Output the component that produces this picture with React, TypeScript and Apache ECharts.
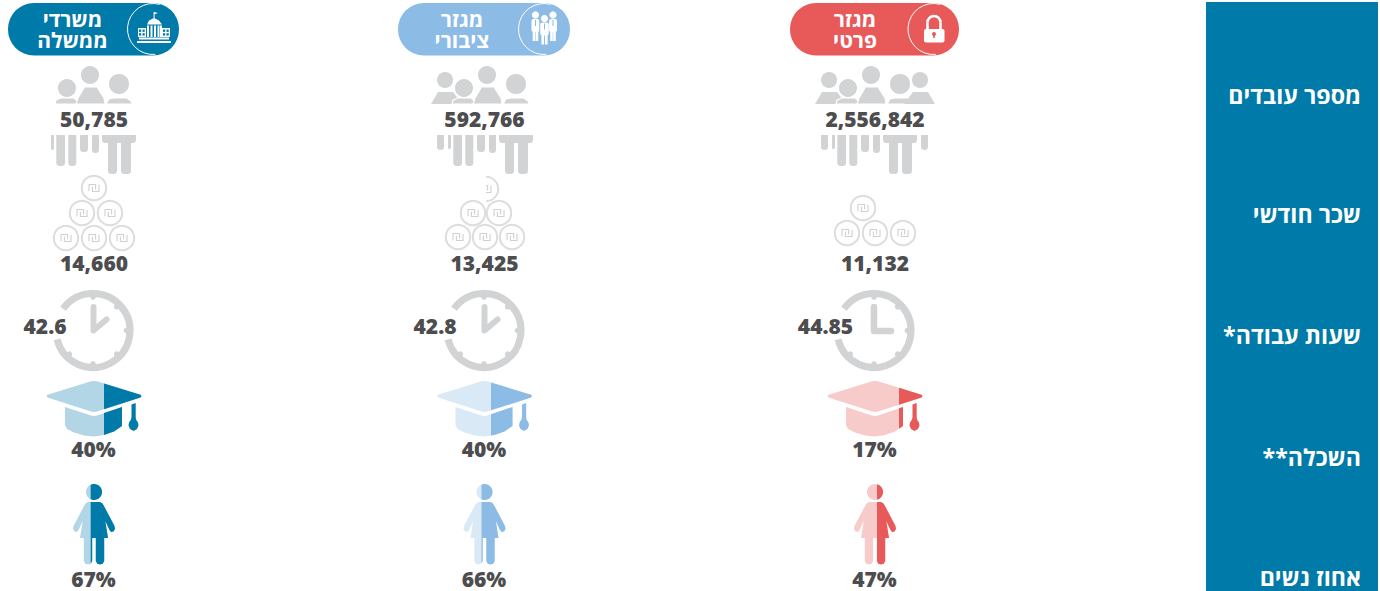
import React, { useEffect, useRef } from "react";
import * as echarts from "echarts";

// ---------- data (column order: left to right in the picture) ----------
const sectors = ["משרדי\nממשלה", "מגזר\nציבורי", "מגזר\nפרטי"];
const rowLabels = ["מספר עובדים", "שכר חודשי", "שעות עבודה*\u200F", "השכלה**\u200F", "אחוז נשים"];
const employees = ["50,785", "592,766", "2,556,842"];
const wages = ["14,660", "13,425", "11,132"];
const hours = ["42.6", "42.8", "44.85"];
const education = ["40%", "40%", "17%"];
const women = ["67%", "66%", "47%"];

// ---------- look ----------
const FONT = '"Open Sans", "Noto Sans", sans-serif';
const GRAY = "#d1d3d4";
const TXT = "#4d4d4f";
const dark = ["#007aa8", "#8cbce6", "#e85a5a"];
const light = ["#b2d6e5", "#d9e9f6", "#f8cbcb"];
const centers = [94, 484.5, 875];
const pillX = [[8, 179], [398, 570], [790, 959]];
const pillCircle = [153, 544, 933.5];
const pillTextX = [72.5, 462, 855];
const peopleDx = [-781, -384, 0];
const peopleSets = ["BCD", "ABCD", "ABCDE"];
const clockCx = [93, 484, 874];
const clockLabelX = [45, 435, 825.5];
const capSplit = [10, 6.5, 24];
const womanSplit = [-3.3, -3, 2];
const coinSets: number[][][] = [
  [[94, 188], [82, 213], [110, 213], [66, 238], [94, 238], [122, 238]],
  [[473, 213], [499, 213], [458, 237], [485, 237], [512, 237]],
  [[863, 208], [847, 233], [875, 233], [903, 233]],
];
const halfCoin = [486, 189];

type P = number[];
const clipRight = (pts: P[], x: number): P[] => {
  const out: P[] = [];
  for (let i = 0; i < pts.length; i++) {
    const a = pts[i];
    const b = pts[(i + 1) % pts.length];
    const ai = a[0] >= x;
    const bi = b[0] >= x;
    if (ai) out.push(a);
    if (ai !== bi) {
      const t = (x - a[0]) / (b[0] - a[0]);
      out.push([x, a[1] + t * (b[1] - a[1])]);
    }
  }
  return out;
};
const circlePts = (cx: number, cy: number, r: number): P[] => {
  const o: P[] = [];
  for (let i = 0; i < 60; i++) {
    const t = (i / 60) * Math.PI * 2;
    o.push([cx + r * Math.cos(t), cy + r * Math.sin(t)]);
  }
  return o;
};

// half of the woman outline, mirrored (relative to the column centre)
const womanHalf: P[] = [
  [0, 502], [6, 502], [8.5, 503.5], [10.5, 507], [20.5, 526], [21, 529], [19.5, 531.5], [17, 532],
  [15.2, 529.5], [11.3, 521], [14, 538], [10.2, 538], [10.2, 561], [8.7, 563.8], [6, 564.6], [3.3, 563.8], [1.8, 561], [1.8, 538], [0, 538],
];
const womanBody: P[] = [
  ...womanHalf,
  ...womanHalf.slice(1, -1).reverse().map((p) => [-p[0], p[1]]),
];
const capTop: P[] = [
  [-46.5, 394.8], [-3, 381.3], [0, 381], [3, 381.3], [46.5, 394.8], [47.5, 396], [46.5, 397.5],
  [3, 411.5], [0, 412], [-3, 411.5], [-46.5, 397.5], [-47.5, 396],
];
const capBase: P[] = [
  [-29, 407], [-3, 415.5], [0, 416], [3, 415.5], [28, 407], [28, 426], [20, 431.5], [10, 435], [0, 436.5], [-10, 435.5], [-20, 432.5], [-27, 429], [-29, 425],
];
const tassel: P[] = [
  [37.5, 404.5], [41.7, 403], [41.7, 417], [42, 419.5], [44, 422.5], [44.5, 425.5], [43, 429], [39.5, 431], [36, 429], [34.5, 425.5], [35, 422.5], [37, 419.5], [37.5, 417],
];

const bodies: Record<string, P[]> = {
  A: [[815, 104], [822, 92], [837, 92], [846, 104]],
  E: [[935, 104], [928, 92], [913, 92], [904, 104]],
  C: [[857, 104], [859, 98], [865.5, 87], [878, 87], [885, 98], [886, 104]],
  B: [[836, 104], [837, 100], [842, 98], [855, 98], [860, 102], [861, 104]],
  D: [[887, 104], [890, 99], [895, 98], [908, 98], [912, 101], [913.5, 104]],
};
const heads: Record<string, number[]> = {
  A: [829, 80, 8], B: [848, 88, 9], C: [871, 75, 9], D: [900, 84, 10], E: [920, 80, 8],
};
const legs: Record<string, number[][]> = {
  A: [[821, 828, 150], [832, 835, 149]],
  B: [[837.3, 846, 166], [849.3, 857.3, 166]],
  C: [[861, 869, 152], [873, 880, 153]],
  D: [[883, 917, 143], [889, 898, 174], [902, 912, 174]],
  E: [[921, 928, 150]],
};

function buildElements(): any[] {
  const el: any[] = [];
  const poly = (points: P[], fill: string, extra: any = {}) =>
    el.push({ type: "polygon", silent: true, shape: { points }, style: { fill, ...extra } });
  const rect = (x: number, y: number, w: number, h: number, fill: string, r: any = 0) =>
    el.push({ type: "rect", silent: true, shape: { x, y, width: w, height: h, r }, style: { fill } });
  const circ = (cx: number, cy: number, r: number, fill: string) =>
    el.push({ type: "circle", silent: true, shape: { cx, cy, r }, style: { fill } });
  const arc = (cx: number, cy: number, r: number, a0: number, a1: number, stroke: string, lineWidth: number) =>
    el.push({
      type: "arc", silent: true,
      shape: { cx, cy, r, startAngle: (a0 * Math.PI) / 180, endAngle: (a1 * Math.PI) / 180, clockwise: true },
      style: { stroke, lineWidth, fill: "none" },
    });
  const line = (points: P[], stroke: string, lineWidth: number, cap = "butt") =>
    el.push({ type: "polyline", silent: true, shape: { points }, style: { stroke, lineWidth, fill: "none", lineCap: cap, lineJoin: "round" } });
  const text = (x: number, y: number, s: string, size: number, fill: string, align = "center", lineHeight?: number, weight: any = "bold") =>
    el.push({
      type: "text", silent: true, x, y: y - 1,
      style: {
        text: s, fill, fontFamily: FONT, fontWeight: weight, fontSize: size, textAlign: align,
        textVerticalAlign: "middle", verticalAlign: "middle", lineHeight: lineHeight || size,
      },
    });

  // right panel
  rect(1206, 2, 172, 589, "#007aa8");
  const rowY = [95.5, 214.5, 335.5, 457.5, 577.5];
  rowLabels.forEach((s, i) => text(1361, rowY[i], s, 23.2, "#ffffff", "right"));

  centers.forEach((cx, i) => {
    const d = dark[i];
    const l = light[i];
    // header pill
    const [px0, px1] = pillX[i];
    rect(px0, 3, px1 - px0, 52.5, d, 26);
    const pc = pillCircle[i];
    arc(pc, 29, 25.5, 85, 285, "#ffffff", 1);
    text(pillTextX[i], 30.5, sectors[i], 21, "#ffffff", "center", 21);
    if (i === 2) {
      arc(pc + 0.5, 22.5, 6.5, 180, 360, "#ffffff", 2.6);
      line([[pc - 6, 22.5], [pc - 6, 30]], "#ffffff", 2.6);
      line([[pc + 7, 22.5], [pc + 7, 30]], "#ffffff", 2.6);
      rect(pc - 9.5, 29, 20.5, 13.5, "#ffffff", 2);
      circ(pc + 0.5, 34, 2, d);
      rect(pc - 0.3, 34, 1.6, 4, d);
    } else if (i === 0) {
      rect(pc - 16, 41, 34, 2, "#ffffff");
      rect(pc - 14, 37.5, 30, 2, "#ffffff");
      rect(pc - 15, 28, 8, 9, "#ffffff");
      rect(pc + 9, 28, 8, 9, "#ffffff");
      [[-14, 29.5], [-10.5, 29.5], [-14, 33.2], [-10.5, 33.2], [10, 29.5], [13.5, 29.5], [10, 33.2], [13.5, 33.2]].forEach(([dx, y]) =>
        rect(pc + dx, y, 2.2, 2.4, d));
      [-6, -2.5, 1, 4.5, 7].forEach((dx) => rect(pc + dx, 25.5, 2, 11.5, "#ffffff"));
      poly([[pc - 6, 24.5], [pc - 4, 20.5], [pc + 1, 18], [pc + 6, 20.5], [pc + 9, 24.5]], "#ffffff");
      rect(pc + 0.6, 12, 1, 6.5, "#ffffff");
      poly([[pc + 1, 12], [pc + 5, 13], [pc + 1, 14.5]], "#ffffff");
    } else {
      const man = (dx: number, top: number, w: number) => {
        circ(pc + dx, top, 3.6, "#ffffff");
        rect(pc + dx - w / 2, top + 4, w, 13, "#ffffff", 2);
        rect(pc + dx - w / 2 + 1.2, top + 10, 2.6, 16, "#ffffff");
        rect(pc + dx + w / 2 - 3.8, top + 10, 2.6, 16, "#ffffff");
        rect(pc + dx - 0.5, top + 5, 1, 6, d);
      };
      man(-8.5, 15, 8);
      man(9, 15, 8);
      rect(pc - 4.5, 18, 9.5, 28, d);
      man(0.5, 18.5, 8.5);
    }

    // employees
    const dx = peopleDx[i];
    const ids = peopleSets[i].split("");
    ids.forEach((id) => {
      poly(bodies[id].map((p) => [p[0] + dx, p[1]]), GRAY, id === "A" || id === "E" ? {} : { stroke: "#ffffff", lineWidth: 1.2 });
      const [hx, hy, hr] = heads[id];
      el.push({ type: "circle", silent: true, shape: { cx: hx + dx, cy: hy, r: hr + 0.6 }, style: { fill: GRAY, stroke: "#ffffff", lineWidth: 1.2 } });
    });
    rect(cx - 100, 104, 200, 31, "#ffffff");
    ids.forEach((id) => {
      legs[id].forEach(([x0, x1, y1], k) => {
        if (id === "A" && i === 0 && k === 0) return;
        rect(x0 + dx, 135, x1 - x0, y1 - 135, GRAY, [0, 0, 3.5, 3.5]);
      });
    });
    if (i === 0) rect(51, 135, 3, 15, GRAY, [0, 0, 1.5, 1.5]);
    text(cx, 120, employees[i], 21, TXT, "center", undefined, 800);

    // wages
    const coin = ([x, y]: number[]) => {
      el.push({ type: "circle", silent: true, shape: { cx: x, cy: y, r: 12.2 }, style: { fill: "none", stroke: "#dcddde", lineWidth: 2 } });
      line([[x - 5, y + 3.2], [x - 5, y - 3.5], [x + 1.6, y - 3.5], [x + 1.6, y + 1.6]], "#cfd0d1", 1.1);
      line([[x + 5, y - 3.2], [x + 5, y + 3.5], [x - 1.6, y + 3.5], [x - 1.6, y - 1.6]], "#cfd0d1", 1.1);
    };
    coinSets[i].forEach(coin);
    if (i === 1) {
      const [x, y] = halfCoin;
      arc(x, y, 12.2, -90, 90, "#dcddde", 2);
      line([[x, y - 3.5], [x + 1.6, y - 3.5], [x + 1.6, y + 1.6]], "#cfd0d1", 1.1);
      line([[x + 5, y - 3.2], [x + 5, y + 3.5], [x, y + 3.5]], "#cfd0d1", 1.1);
    }
    text(cx, 264, wages[i], 21, TXT, "center", undefined, 800);

    // hours
    const ccx = clockCx[i];
    const ccy = 330.5;
    arc(ccx, ccy, 37, -144, 166, GRAY, 7);
    [-90, -45, 0, 45, 90, 135].forEach((a) => {
      const t = (a * Math.PI) / 180;
      circ(ccx + 33.5 * Math.cos(t), ccy + 33.5 * Math.sin(t), 2.8, GRAY);
    });
    if (i === 2) {
      line([[ccx, 307], [ccx, ccy + 0.5], [ccx + 17, ccy + 0.5]], GRAY, 6.5, "round");
    } else {
      line([[ccx + 0.5, 307], [ccx + 0.5, ccy], [ccx + 13.5, 319.5]], GRAY, 6, "round");
    }
    text(clockLabelX[i], 327, hours[i], 21, TXT, "center", undefined, 800);

    // education
    const shift = (pts: P[]) => pts.map((p) => [p[0] + cx, p[1]]);
    const top = shift(capTop);
    const base = shift(capBase);
    poly(top, l);
    poly(base, l);
    poly(clipRight(top, cx + capSplit[i]), d);
    poly(clipRight(base, cx + capSplit[i]), d);
    poly(shift(tassel), d);
    text(cx - 0.5, 450, education[i], 21, TXT, "center", undefined, 800);

    // women
    const head = circlePts(cx, 492, 8);
    const body = shift(womanBody);
    poly(head, l);
    poly(body, l);
    poly(clipRight(head, cx + womanSplit[i]), d);
    poly(clipRight(body, cx + womanSplit[i]), d);
    text(cx - 0.5, 580, women[i], 21, TXT, "center", undefined, 800);
  });
  return el;
}

export default function App() {
  const ref = useRef<HTMLDivElement>(null);
  useEffect(() => {
    document.body.style.margin = "0";
    const chart = echarts.init(ref.current!, undefined, { renderer: "svg" });
    chart.setOption({
      animation: false,
      backgroundColor: "#ffffff",
      graphic: { elements: buildElements() },
    });
    return () => chart.dispose();
  }, []);
  return <div ref={ref} style={{ position: "absolute", left: 0, top: 0, width: 1380, height: 591 }} />;
}
